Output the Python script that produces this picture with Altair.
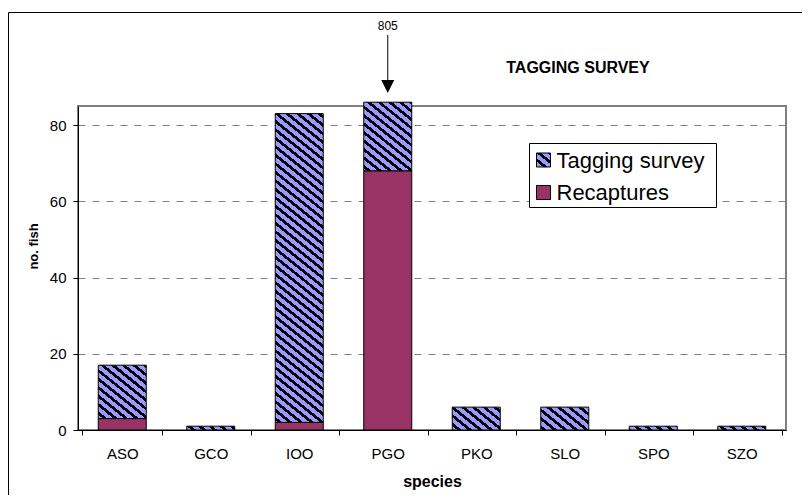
import math
import altair as alt
import pandas as pd

# ---------------- data ----------------
species = ["ASO", "GCO", "IOO", "PGO", "PKO", "SLO", "SPO", "SZO"]
tagging = [14, 1, 81, 805, 6, 6, 1, 1]
recaptures = [3, 0, 2, 68, 0, 0, 0, 0]
series_names = ["Tagging survey", "Recaptures"]
series_colors = ["#9999FF", "#993366"]
y_ticks = [0, 20, 40, 60, 80]
y_max = 85      # axis maximum
bar_cap = 86    # truncated bars are drawn up to here

# ---------------- layout ----------------
W, H = 708, 324
BAR = 48
FONT = "Liberation Sans"
PERIOD, DARK = 8.5, 3.6

rows = []
for i, sp in enumerate(species):
    r, t = recaptures[i], tagging[i]
    if r > 0:
        rows.append(dict(species=sp, series="Recaptures", start=0, end=min(r, bar_cap), idx=i))
    if t > 0:
        rows.append(dict(species=sp, series="Tagging survey", start=r, end=min(r + t, bar_cap), idx=i))
df = pd.DataFrame(rows)

annot = pd.DataFrame([
    dict(species=sp, label=str(tagging[i]))
    for i, sp in enumerate(species) if recaptures[i] + tagging[i] > y_max
])


def hatch(w, h, x0, y0, period=PERIOD, dark=DARK, a=0.8, c_dark="#000000", c_light="#9999FF"):
    """Diagonal stripe fill built from a sharp-stop linear gradient (bbox units)."""
    s_min, s_max = -a * w, h
    L = s_max - s_min
    off = y0 - a * x0

    def col(s):
        return c_dark if ((s + off) % period) < dark else c_light

    bounds = []
    n0 = math.floor((s_min + off) / period) - 1
    n1 = math.ceil((s_max + off) / period) + 1
    for n in range(n0, n1 + 1):
        for b in (n * period, n * period + dark):
            s = b - off
            if s_min < s < s_max:
                bounds.append(s)
    bounds.sort()
    cur = col(s_min + 1e-6)
    stops = [{"offset": 0, "color": cur}]
    for s in bounds:
        o = round((s - s_min) / L, 6)
        stops.append({"offset": o, "color": cur})
        cur = col(s + 1e-6)
        stops.append({"offset": o, "color": cur})
    stops.append({"offset": 1, "color": cur})
    k = L / (a * a * w * w + h * h)
    return {"gradient": "linear", "x1": 1, "y1": 0,
            "x2": 1 - k * a * w, "y2": k * h, "stops": stops}


x_axis = alt.Axis(title="species", labelAngle=0, tickBand="extent", tickSize=5,
                  labelFontSize=15, labelBaseline="alphabetic", labelPadding=23,
                  titleFontSize=16, titleFontWeight="bold", titleY=56,
                  titleBaseline="alphabetic", grid=False)
y_axis = alt.Axis(title="no. fish", values=y_ticks, tickSize=5, labelFontSize=15,
                  labelPadding=7, grid=True, gridColor="#808080", gridDash=[7, 7],
                  gridWidth=1, titleFontSize=13, titleFontWeight="bold",
                  titleX=-41, titleY=140, titleBaseline="alphabetic")

X = alt.X("species:N", scale=alt.Scale(domain=species), axis=x_axis)
Y = alt.Y("end:Q", scale=alt.Scale(domain=[0, y_max], nice=False, zero=True), axis=y_axis)

rec_layer = alt.Chart(df).transform_filter(alt.datum.series == "Recaptures").mark_bar(
    size=BAR, stroke="black", strokeWidth=1, opacity=1, fill=series_colors[1]
).encode(x=X, y=Y, y2="start:Q")

tag_layers = []
for _, row in df[df.series == "Tagging survey"].iterrows():
    h = (row.end - row.start) * H / y_max
    x0 = (row.idx + 0.5) * W / len(species) - BAR / 2
    y0 = H - row.end * H / y_max
    grad = hatch(BAR, h, x0, y0, c_light=series_colors[0])
    tag_layers.append(
        alt.Chart(df).transform_filter(
            (alt.datum.species == row.species) & (alt.datum.series == "Tagging survey")
        ).mark_bar(size=BAR, fill=grad, stroke="black", strokeWidth=1, opacity=1)
        .encode(x=X, y=Y, y2="start:Q")
    )

one = alt.Data(values=[{"t": "TAGGING SURVEY"}])
frame_top = alt.Chart(one).mark_rule(color="black", strokeWidth=1).encode(
    x=alt.value(-69.5), x2=alt.value(730), y=alt.value(-93.5))
frame_left = alt.Chart(one).mark_rule(color="black", strokeWidth=1).encode(
    x=alt.value(-69.5), y=alt.value(-93.5), y2=alt.value(400))

title = alt.Chart(one).mark_text(font=FONT, fontSize=16, fontWeight="bold", color="black",
                                 align="center", baseline="alphabetic").encode(
    x=alt.value(500), y=alt.value(-33), text="t:N")

# ---- legend (drawn by hand so the hatched swatch matches the bars) ----
LX0, LX1, LY0, LY1 = 451.5, 638.5, 37.5, 101.5
legend_layers = [
    alt.Chart(one).mark_rect(fill="white", stroke="black", strokeWidth=1).encode(
        x=alt.value(LX0), x2=alt.value(LX1), y=alt.value(LY0), y2=alt.value(LY1))
]
row_centers = [54, 86.5]
for j, name in enumerate(series_names):
    cy = row_centers[j]
    sw_fill = hatch(14, 14, 458, cy - 7, c_light=series_colors[0]) if j == 0 else series_colors[1]
    legend_layers.append(
        alt.Chart(alt.Data(values=[{"n": name}])).mark_rect(
            fill=sw_fill, stroke="black", strokeWidth=1).encode(
            x=alt.value(458.5), x2=alt.value(472.5), y=alt.value(cy - 7), y2=alt.value(cy + 7))
    )
    legend_layers.append(
        alt.Chart(alt.Data(values=[{"n": name}])).mark_text(
            font=FONT, fontSize=22, color="black", align="left", baseline="alphabetic").encode(
            x=alt.value(478.5), y=alt.value(cy + 7.5), text="n:N")
    )

arrow_line = alt.Chart(annot).mark_rule(color="black", strokeWidth=1).encode(
    x=alt.X("species:N", scale=alt.Scale(domain=species)), y=alt.value(-71), y2=alt.value(-25))
arrow_head = alt.Chart(annot).mark_point(shape="M-1,-1L1,-1L0,1Z", size=169, filled=True,
                                         color="black", opacity=1).encode(
    x=alt.X("species:N", scale=alt.Scale(domain=species)), y=alt.value(-19.5))
annot_text = alt.Chart(annot).mark_text(font=FONT, fontSize=12, color="black",
                                        align="center", baseline="alphabetic").encode(
    x=alt.X("species:N", scale=alt.Scale(domain=species)), y=alt.value(-76.5), text="label:N")

chart = alt.layer(
    frame_top, frame_left, title, rec_layer, *tag_layers, *legend_layers,
    arrow_line, arrow_head, annot_text
).properties(
    width=W, height=H,
    autosize=alt.AutoSizeParams(type="none"),
    padding={"left": 70, "top": 98, "right": 16, "bottom": 65},
).configure_view(
    stroke="#808080", strokeWidth=2
).configure_axis(
    labelFont=FONT, titleFont=FONT, labelColor="black", titleColor="black",
    domainColor="black", tickColor="black", domainWidth=1
)

chart.save("out.html", embed_options={"renderer": "svg", "actions": False})
